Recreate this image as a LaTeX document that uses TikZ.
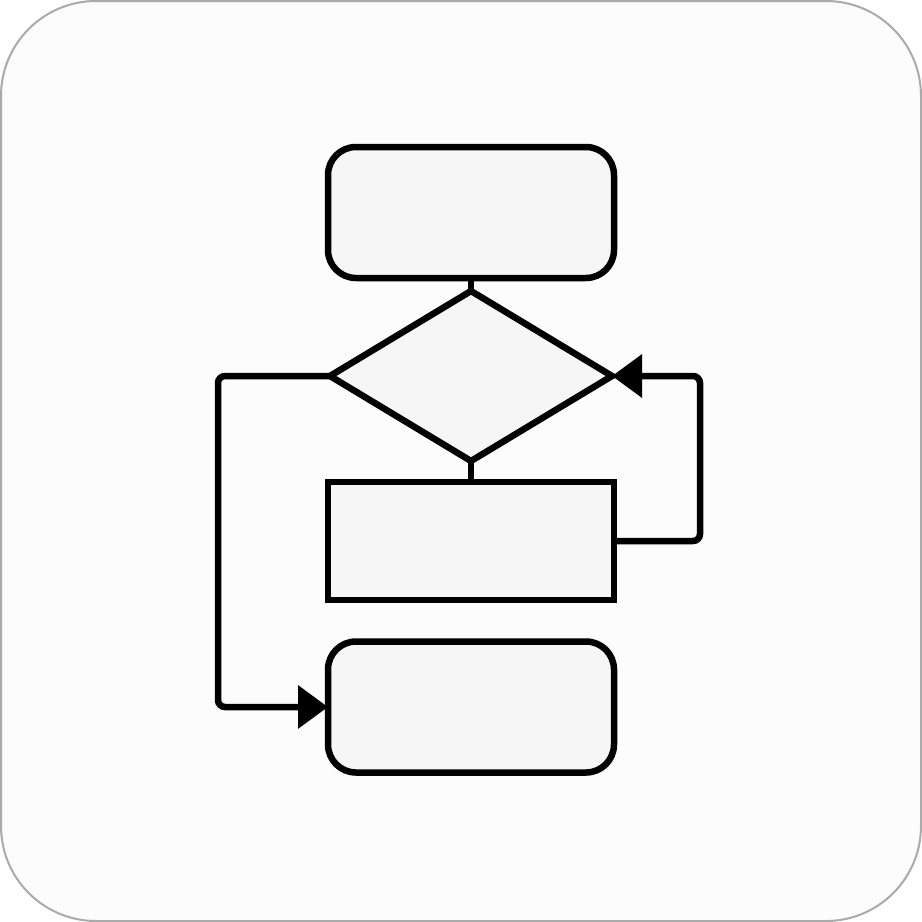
\documentclass[tikz,border=0pt]{standalone}
\usetikzlibrary{shapes.geometric,arrows.meta,calc}
\definecolor{bgfill}{HTML}{FCFCFC}
\definecolor{bgline}{HTML}{AAAAAA}
\definecolor{boxfill}{HTML}{F6F6F6}
\begin{document}
\begin{tikzpicture}[x=1pt,y=-1pt,
  shapebox/.style={draw=black,line width=6.5pt,fill=boxfill,outer sep=0pt,inner sep=0pt},
  roundbox/.style={shapebox,rounded corners=28pt,minimum width=286pt,minimum height=131pt},
  plainbox/.style={shapebox,minimum width=286pt,minimum height=118pt},
  decision/.style={shapebox,diamond,minimum width=282pt,minimum height=170pt,line join=miter},
  link/.style={draw=black,line width=6.5pt,rounded corners=7pt},
  tip/.style={-{Triangle[length=30pt,width=42pt]}}
]
\useasboundingbox (0,0) rectangle (922,922);
\draw[fill=bgfill,draw=bgline,line width=2pt,rounded corners=95pt] (1,1) rectangle (921,921);

\node[roundbox] (start) at (471,212.5) {};
\node[decision] (dec) at (471,376) {};
\node[plainbox] (proc) at (471,541) {};
\node[roundbox] (stop) at (471,707) {};

\draw[link] (start.south) -- (dec.north);
\draw[link] (dec.south) -- (proc.north);
\coordinate (lc) at (218,376);
\coordinate (rc) at (700,541);
\draw[link,tip] (dec.west) -- (lc) |- (stop.west);
\draw[link,tip] (proc.east) -- (rc) |- (dec.east);
\end{tikzpicture}
\end{document}
